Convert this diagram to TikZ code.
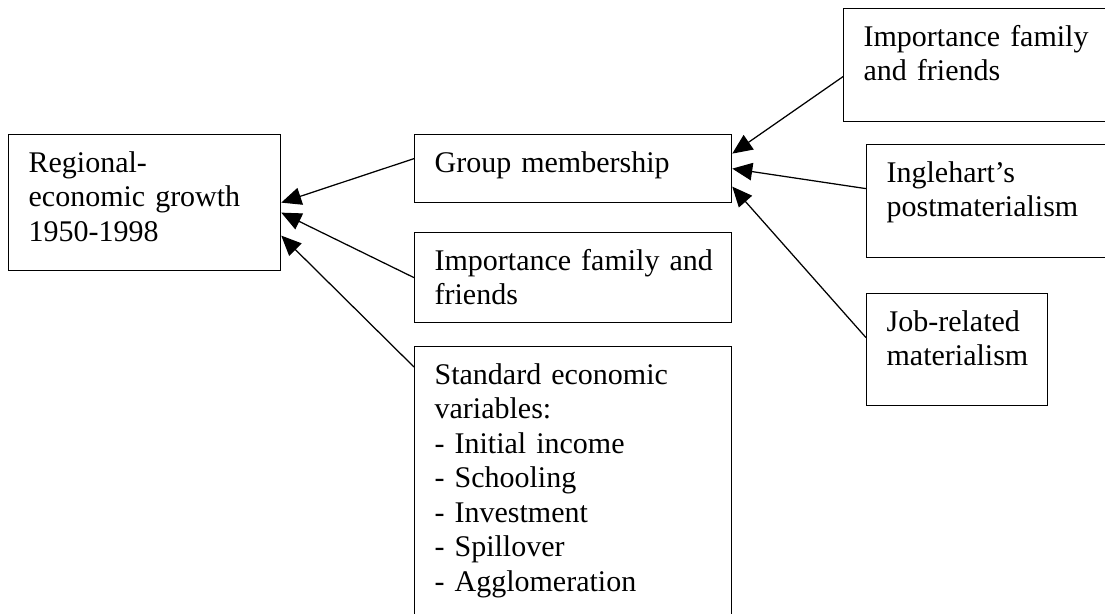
\documentclass[tikz,border=0pt]{standalone}
\usepackage{fontspec}
\setmainfont{Liberation Serif}
\usetikzlibrary{arrows.meta}
\hyphenpenalty=10000
\exhyphenpenalty=10000
\tikzset{
  box/.style={draw, line width=0.5pt, anchor=north west, align=left,
    inner xsep=8pt, inner ysep=6pt, text height=9pt,
    font=\fontsize{12}{13.8}\selectfont},
  arr/.style={line width=0.5pt, -{Triangle[length=8pt,width=7pt]}}
}
\begin{document}
\begin{tikzpicture}[x=0.4pt,y=-0.4pt]
\useasboundingbox (0,0) rectangle (1105,613);
\node[box,text width=92.8pt,text depth=33.4pt] (growth) at (8,134) {Regional-\\economic growth\\1950-1998};
\node[box,text width=110.8pt,text depth=6.2pt] (group) at (414,134) {Group membership};
\node[box,text width=110.8pt,text depth=15pt] (family) at (414,232) {\mbox{Importance family and}\\friends};
\node[box,text width=110.8pt,text depth=96.6pt] (std) at (414,346) {Standard economic\\variables:\\- Initial income\\- Schooling\\- Investment\\- Spillover\\- Agglomeration};
\node[box,text width=91.6pt,text depth=24.2pt] (familyR) at (843,8) {Importance family\\and friends};
\node[box,text width=82.4pt,text depth=24.2pt] (ingle) at (866,144) {Inglehart’s\\postmaterialism};
\node[box,text width=56.4pt,text depth=23.8pt] (job) at (866,293) {Job-related\\materialism};
\draw[arr] ([yshift=4pt]group.west) -- (growth.east);
\draw[arr] (family.west) -- ([yshift=-4pt]growth.east);
\draw[arr] ([yshift=-8.4pt]std.north west) -- ([yshift=-13.2pt]growth.east);
\draw[arr] ([yshift=-4.6pt]familyR.west) -- ([yshift=6pt]group.east);
\draw[arr] ([yshift=5pt]ingle.west) -- (group.east);
\draw[arr] ([yshift=4.8pt]job.west) -- ([yshift=-7.2pt]group.east);
\end{tikzpicture}
\end{document}
